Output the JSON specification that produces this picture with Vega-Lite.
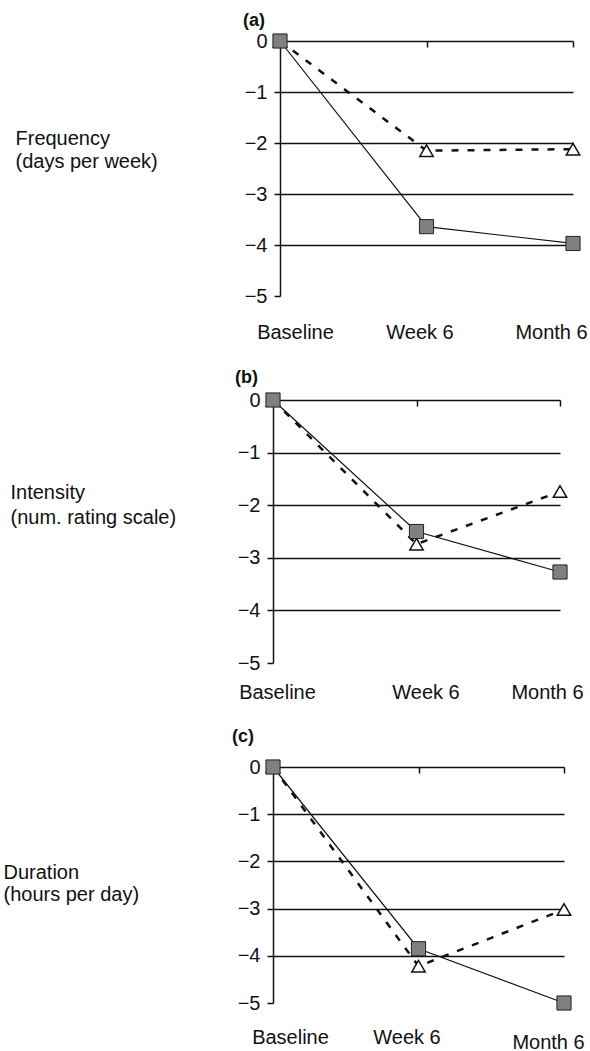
{
  "$schema": "https://vega.github.io/schema/vega-lite/v6.json",
  "background": "white",
  "padding": {"left": 3, "top": 12, "right": 0, "bottom": 0},
  "spacing": 104,
  "bounds": "flush",
  "config": {
    "font": "Liberation Sans",
    "view": {"stroke": null},
    "axis": {"labelFont": "Liberation Sans", "titleFont": "Liberation Sans"},
    "title": {"font": "Liberation Sans", "color": "#111"}
  },
  "datasets": {
    "d": [
      {"panel": "a", "time": "Baseline", "series": "square", "value": 0},
      {"panel": "a", "time": "Week 6", "series": "square", "value": -3.64},
      {"panel": "a", "time": "Month 6", "series": "square", "value": -3.97},
      {"panel": "a", "time": "Baseline", "series": "triangle", "value": 0},
      {"panel": "a", "time": "Week 6", "series": "triangle", "value": -2.15},
      {"panel": "a", "time": "Month 6", "series": "triangle", "value": -2.12},
      {"panel": "b", "time": "Baseline", "series": "square", "value": 0},
      {"panel": "b", "time": "Week 6", "series": "square", "value": -2.5},
      {"panel": "b", "time": "Month 6", "series": "square", "value": -3.27},
      {"panel": "b", "time": "Baseline", "series": "triangle", "value": 0},
      {"panel": "b", "time": "Week 6", "series": "triangle", "value": -2.74},
      {"panel": "b", "time": "Month 6", "series": "triangle", "value": -1.74},
      {"panel": "c", "time": "Baseline", "series": "square", "value": 0},
      {"panel": "c", "time": "Week 6", "series": "square", "value": -3.85},
      {"panel": "c", "time": "Month 6", "series": "square", "value": -5.0},
      {"panel": "c", "time": "Baseline", "series": "triangle", "value": 0},
      {"panel": "c", "time": "Week 6", "series": "triangle", "value": -4.22},
      {"panel": "c", "time": "Month 6", "series": "triangle", "value": -3.02}
    ]
  },
  "vconcat": [
    {
      "width": 300,
      "height": 255,
      "title": {"text": "(a)", "anchor": "start", "frame": "group", "dx": -30, "offset": -13, "baseline": "alphabetic", "fontSize": 18, "fontWeight": "bold"},
      "data": {"name": "d"},
      "transform": [{"filter": "datum.panel === 'a'"}],
      "encoding": {
        "x": {"field": "time", "type": "ordinal", "scale": {"type": "point", "padding": 0, "domain": ["Baseline", "Week 6", "Month 6"], "range": [7, 300]},
          "axis": {"orient": "top", "domain": false, "ticks": true, "tickSize": -6, "tickColor": "#111", "tickWidth": 1.5,
            "tickOpacity": {"condition": {"test": "datum.value === 'Baseline'", "value": 0}, "value": 1},
            "grid": false, "title": null, "labelAngle": 0, "labelFontSize": 20, "labelColor": "#111", "labelBaseline": "top", "labelPadding": -275,
            "labelOffset": {"condition": [{"test": "datum.value === 'Baseline'", "value": 15}, {"test": "datum.value === 'Week 6'", "value": -7}], "value": -22}}},
        "y": {"field": "value", "type": "quantitative", "scale": {"domain": [-5, 0], "nice": false, "zero": false},
          "axis": {"orient": "left", "offset": -7, "values": [0, -1, -2, -3, -4, -5], "format": "d", "domain": true, "domainColor": "#111", "domainWidth": 1.5, "ticks": true, "tickSize": 6, "tickColor": "#111", "tickWidth": 1.5, "grid": true, "gridColor": "#111", "gridWidth": 1.5,
            "gridOpacity": {"condition": {"test": "datum.value === -5", "value": 0}, "value": 1},
            "labelFontSize": 20, "labelPadding": 7, "labelColor": "#111",
            "title": ["Frequency", "(days per week)"], "titleAngle": 0, "titleAlign": "left", "titleBaseline": "alphabetic", "titleX": -265, "titleY": 103, "titleFontSize": 20, "titleFontWeight": "normal", "titleLineHeight": 23, "titleColor": "#111"}}
      },
      "layer": [
        {
          "transform": [{"filter": "datum.series === 'triangle'"}],
          "mark": {"type": "line", "color": "#111", "strokeWidth": 2.5, "strokeDash": [7, 9]}
        },
        {
          "transform": [{"filter": "datum.series === 'square'"}],
          "mark": {"type": "line", "color": "#111", "strokeWidth": 1.2}
        },
        {
          "transform": [{"filter": "datum.series === 'triangle'"}],
          "mark": {"type": "point", "shape": "triangle-up", "filled": true, "fill": "white", "stroke": "#111", "strokeWidth": 1.5, "size": 180, "opacity": 1}
        },
        {
          "transform": [{"filter": "datum.series === 'square'"}],
          "mark": {"type": "point", "shape": "square", "filled": true, "fill": "#808080", "stroke": "#222", "strokeWidth": 1, "size": 200, "opacity": 1}
        }
      ]
    },
    {
      "width": 287,
      "height": 263,
      "title": {"text": "(b)", "anchor": "start", "frame": "group", "dx": -38, "offset": -11, "baseline": "alphabetic", "fontSize": 18, "fontWeight": "bold"},
      "data": {"name": "d"},
      "transform": [{"filter": "datum.panel === 'b'"}],
      "encoding": {
        "x": {"field": "time", "type": "ordinal", "scale": {"type": "point", "padding": 0, "domain": ["Baseline", "Week 6", "Month 6"], "range": [0, 287]},
          "axis": {"orient": "top", "domain": false, "ticks": true, "tickSize": -6, "tickColor": "#111", "tickWidth": 1.5,
            "tickOpacity": {"condition": {"test": "datum.value === 'Baseline'", "value": 0}, "value": 1},
            "grid": false, "title": null, "labelAngle": 0, "labelFontSize": 20, "labelColor": "#111", "labelBaseline": "top", "labelPadding": -276,
            "labelOffset": {"condition": [{"test": "datum.value === 'Baseline'", "value": 4}, {"test": "datum.value === 'Week 6'", "value": 9}], "value": -13}}},
        "y": {"field": "value", "type": "quantitative", "scale": {"domain": [-5, 0], "nice": false, "zero": false},
          "axis": {"orient": "left", "offset": 0, "values": [0, -1, -2, -3, -4, -5], "format": "d", "domain": true, "domainColor": "#111", "domainWidth": 1.5, "ticks": true, "tickSize": 6, "tickColor": "#111", "tickWidth": 1.5, "grid": true, "gridColor": "#111", "gridWidth": 1.5,
            "gridOpacity": {"condition": {"test": "datum.value === -5", "value": 0}, "value": 1},
            "labelFontSize": 20, "labelPadding": 7, "labelColor": "#111",
            "title": ["Intensity", "(num. rating scale)"], "titleAngle": 0, "titleAlign": "left", "titleBaseline": "alphabetic", "titleX": -263, "titleY": 98, "titleFontSize": 20, "titleFontWeight": "normal", "titleLineHeight": 25, "titleColor": "#111"}}
      },
      "layer": [
        {
          "transform": [{"filter": "datum.series === 'triangle'"}],
          "mark": {"type": "line", "color": "#111", "strokeWidth": 2.5, "strokeDash": [7, 9]}
        },
        {
          "transform": [{"filter": "datum.series === 'square'"}],
          "mark": {"type": "line", "color": "#111", "strokeWidth": 1.2}
        },
        {
          "transform": [{"filter": "datum.series === 'triangle'"}],
          "mark": {"type": "point", "shape": "triangle-up", "filled": true, "fill": "white", "stroke": "#111", "strokeWidth": 1.5, "size": 180, "opacity": 1}
        },
        {
          "transform": [{"filter": "datum.series === 'square'"}],
          "mark": {"type": "point", "shape": "square", "filled": true, "fill": "#808080", "stroke": "#222", "strokeWidth": 1, "size": 200, "opacity": 1}
        }
      ]
    },
    {
      "width": 291,
      "height": 236,
      "title": {"text": "(c)", "anchor": "start", "frame": "group", "dx": -41, "offset": -3, "baseline": "alphabetic", "fontSize": 18, "fontWeight": "bold"},
      "data": {"name": "d"},
      "transform": [{"filter": "datum.panel === 'c'"}],
      "encoding": {
        "x": {"field": "time", "type": "ordinal", "scale": {"type": "point", "padding": 0, "domain": ["Baseline", "Week 6", "Month 6"], "range": [0, 291]},
          "axis": {"orient": "top", "domain": false, "ticks": true, "tickSize": -6, "tickColor": "#111", "tickWidth": 1.5,
            "tickOpacity": {"condition": {"test": "datum.value === 'Baseline'", "value": 0}, "value": 1},
            "grid": false, "title": null, "labelAngle": 0, "labelFontSize": 20, "labelColor": "#111", "labelBaseline": "top",
            "labelPadding": {"condition": {"test": "datum.value === 'Month 6'", "value": -259}, "value": -254},
            "labelOffset": {"condition": [{"test": "datum.value === 'Baseline'", "value": 17}, {"test": "datum.value === 'Week 6'", "value": -12}], "value": -16}}},
        "y": {"field": "value", "type": "quantitative", "scale": {"domain": [-5, 0], "nice": false, "zero": false},
          "axis": {"orient": "left", "offset": 0, "values": [0, -1, -2, -3, -4, -5], "format": "d", "domain": true, "domainColor": "#111", "domainWidth": 1.5, "ticks": true, "tickSize": 6, "tickColor": "#111", "tickWidth": 1.5, "grid": true, "gridColor": "#111", "gridWidth": 1.5,
            "gridOpacity": {"condition": {"test": "datum.value === -5", "value": 0}, "value": 1},
            "labelFontSize": 20, "labelPadding": 7, "labelColor": "#111",
            "title": ["Duration", "(hours per day)"], "titleAngle": 0, "titleAlign": "left", "titleBaseline": "alphabetic", "titleX": -270, "titleY": 111, "titleFontSize": 20, "titleFontWeight": "normal", "titleLineHeight": 22, "titleColor": "#111"}}
      },
      "layer": [
        {
          "transform": [{"filter": "datum.series === 'triangle'"}],
          "mark": {"type": "line", "color": "#111", "strokeWidth": 2.5, "strokeDash": [7, 9]}
        },
        {
          "transform": [{"filter": "datum.series === 'square'"}],
          "mark": {"type": "line", "color": "#111", "strokeWidth": 1.2}
        },
        {
          "transform": [{"filter": "datum.series === 'triangle'"}],
          "mark": {"type": "point", "shape": "triangle-up", "filled": true, "fill": "white", "stroke": "#111", "strokeWidth": 1.5, "size": 180, "opacity": 1}
        },
        {
          "transform": [{"filter": "datum.series === 'square'"}],
          "mark": {"type": "point", "shape": "square", "filled": true, "fill": "#808080", "stroke": "#222", "strokeWidth": 1, "size": 200, "opacity": 1}
        }
      ]
    }
  ]
}
